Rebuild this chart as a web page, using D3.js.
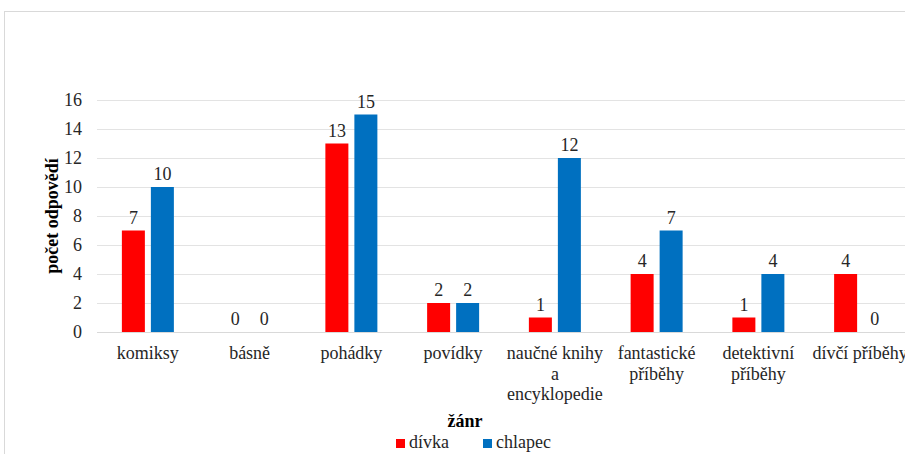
<!DOCTYPE html>
<html>
<head>
<meta charset="utf-8">
<script src="https://cdn.jsdelivr.net/npm/d3@7"></script>
</head>
<body style="margin:0;padding:0;background:#fff;overflow:hidden">
<svg id="chart" width="905" height="454" style="display:block"></svg>
<script>
// Žánry (each label split into lines as wrapped under the axis)
const categories = [
  ["komiksy"],
  ["básně"],
  ["pohádky"],
  ["povídky"],
  ["naučné knihy", "a", "encyklopedie"],
  ["fantastické", "příběhy"],
  ["detektivní", "příběhy"],
  ["dívčí příběhy"]
];
const seriesNames = ["dívka", "chlapec"];
const divka   = [7, 0, 13, 2, 1, 4, 1, 4];
const chlapec = [10, 0, 15, 2, 12, 7, 4, 0];
const yTicks = [0, 2, 4, 6, 8, 10, 12, 14, 16];
const colors = ["#FF0000", "#0070C0"];

const FONT = "'Liberation Serif', 'Times New Roman', serif";
const TEXT_COLOR = "#262626";
const FS = 18;

const svg = d3.select("#chart");

// applies the chart's serif typeface to a text selection
function serif(sel, size, weight) {
  return sel
    .attr("font-family", FONT)
    .style("font-family", FONT)
    .style("font-size", size + "px")
    .style("font-weight", weight || "normal");
}

// outer chart frame
svg.append("rect")
  .attr("x", 4.5).attr("y", 11.5)
  .attr("width", 920).attr("height", 460)
  .attr("fill", "#fff").attr("stroke", "#d9d9d9");

const plot = { left: 97, right: 911, top: 100, bottom: 332 };

const x0 = d3.scaleBand()
  .domain(d3.range(categories.length))
  .range([plot.left, plot.right])
  .paddingInner(0).paddingOuter(0);

const y = d3.scaleLinear().domain([0, 16]).range([plot.bottom, plot.top]);

// gridlines
svg.append("g")
  .selectAll("line")
  .data(yTicks.filter(d => d > 0))
  .join("line")
  .attr("x1", plot.left).attr("x2", plot.right)
  .attr("y1", d => Math.round(y(d)) + 0.5).attr("y2", d => Math.round(y(d)) + 0.5)
  .attr("stroke", "#e3e3e3").attr("stroke-width", 1);

// y axis tick labels
const yAxis = d3.axisLeft(y).tickValues(yTicks).tickSize(0).tickPadding(0);
const gy = svg.append("g").attr("transform", `translate(${plot.left - 15},0)`).call(yAxis);
gy.attr("font-family", FONT).attr("font-size", FS);
gy.select(".domain").remove();
serif(gy.selectAll("text"), FS).attr("fill", TEXT_COLOR);

// bars with value labels
const barW = 23, gap = 6;
const seriesData = [divka, chlapec];
const barX = (i, si) => x0(i) + x0.bandwidth() / 2 + (si === 0 ? -(barW + gap / 2) : gap / 2);
seriesData.forEach((vals, si) => {
  const g = svg.append("g");
  g.selectAll("rect")
    .data(vals)
    .join("rect")
    .attr("x", (d, i) => barX(i, si))
    .attr("y", d => y(d))
    .attr("width", barW)
    .attr("height", d => y(0) - y(d))
    .attr("fill", colors[si]);
  serif(g.selectAll("text")
    .data(vals)
    .join("text")
    .attr("x", (d, i) => barX(i, si) + barW / 2)
    .attr("y", d => y(d) - 7)
    .attr("text-anchor", "middle")
    .attr("fill", TEXT_COLOR)
    .text(d => d), FS);
});

// x axis line
svg.append("line")
  .attr("x1", plot.left).attr("x2", plot.right)
  .attr("y1", plot.bottom + 0.5).attr("y2", plot.bottom + 0.5)
  .attr("stroke", "#d9d9d9");

// category labels
const xl = svg.append("g");
categories.forEach((lines, i) => {
  const cx = x0(i) + x0.bandwidth() / 2;
  const t = serif(xl.append("text")
    .attr("x", cx)
    .attr("y", 359)
    .attr("text-anchor", "middle")
    .attr("fill", TEXT_COLOR), FS);
  lines.forEach((ln, j) => {
    t.append("tspan")
      .attr("x", cx)
      .attr("dy", j === 0 ? 0 : 20.5)
      .text(ln);
  });
});

// axis titles
serif(svg.append("text")
  .attr("transform", `translate(58,216) rotate(-90)`)
  .attr("text-anchor", "middle")
  .attr("fill", "#000")
  .text("počet odpovědí"), FS, "bold");

serif(svg.append("text")
  .attr("x", 465).attr("y", 427)
  .attr("text-anchor", "middle")
  .attr("fill", "#000")
  .text("žánr"), FS, "bold");

// legend
const legendX = [396, 483];
const lg = svg.append("g");
seriesNames.forEach((name, i) => {
  lg.append("rect")
    .attr("x", legendX[i]).attr("y", 439)
    .attr("width", 9).attr("height", 9)
    .attr("fill", colors[i]);
  serif(lg.append("text")
    .attr("x", legendX[i] + 13).attr("y", 448)
    .attr("fill", TEXT_COLOR)
    .text(name), FS);
});
</script>
</body>
</html>
